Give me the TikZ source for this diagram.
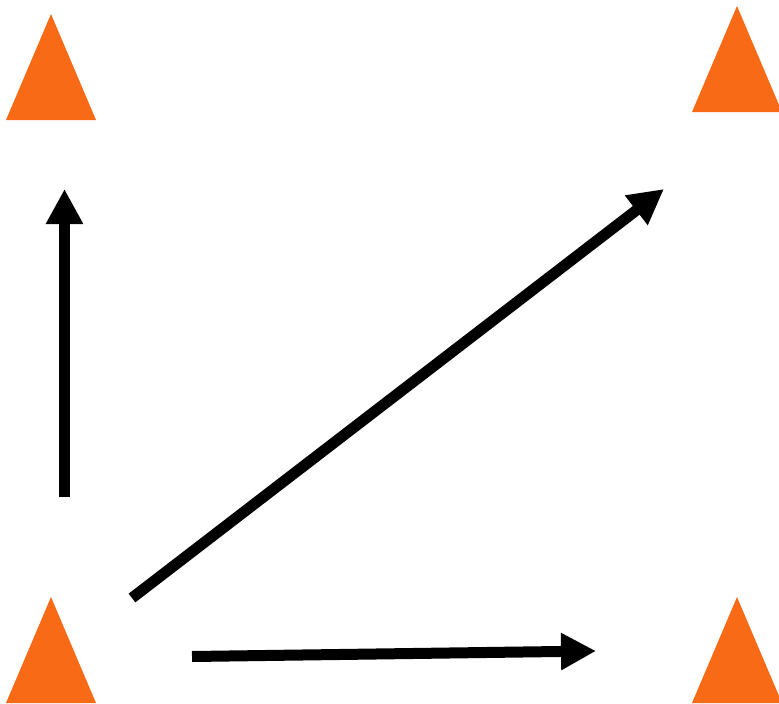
\documentclass[tikz,border=0pt]{standalone}
\usetikzlibrary{arrows.meta}
\definecolor{coneorange}{RGB}{248,106,22}
\begin{document}
\begin{tikzpicture}[x=1pt, y=-1pt,
		cone/.style={fill=coneorange},
		push/.style={-{Triangle[length=35pt,width=35pt]}, line width=11pt}]
		\useasboundingbox (0,0) rectangle (779,704);
		% corner markers
		\foreach \name/\x/\y in {tl/51/14, tr/737/6, bl/51/597, br/737/597} {
			\fill[cone] (\x,\y) coordinate (\name) -- ++(45,106) -- ++(-90,0) -- cycle;
		}
		% arrow ends
		\coordinate (up start) at (64.5,497);
		\coordinate (up end) at (64.5,189);
		\coordinate (diag start) at (132,598);
		\coordinate (diag end) at (664,189);
		\coordinate (right start) at (192,656.5);
		\coordinate (right end) at (596,651);
		% moves
		\draw[push] (up start) -- (up end);
		\draw[push] (diag start) -- (diag end);
		\draw[push] (right start) -- (right end);
	\end{tikzpicture}
\end{document}
